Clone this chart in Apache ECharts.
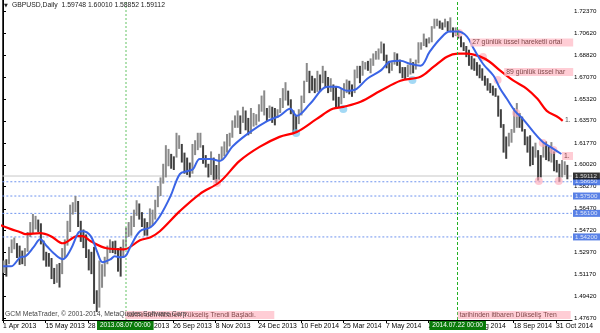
<!DOCTYPE html>
<html><head><meta charset="utf-8">
<script src="https://cdn.jsdelivr.net/npm/echarts@6/dist/echarts.min.js"></script>
<style>html,body{margin:0;padding:0;background:#fff}#c{width:600px;height:333px}</style>
</head><body><div id="c"></div>
<script>
// x axis: trading-day index from 1 Apr 2013
const dateTickDays = [0,32,64,96,128,160,192,224,256,288,320,352,384,416];
const dateLabels = ['1 Apr 2013','15 May 2013','28 Jun 2013','13 Aug 2013','26 Sep 2013','8 Nov 2013','24 Dec 2013','10 Feb 2014','25 Mar 2014','7 May 2014','20 Jun 2014','1 Aug 2014','18 Sep 2014','31 Oct 2014'];
const yTicks = [1.4767,1.4942,1.5117,1.5297,1.5472,1.5647,1.5827,1.6002,1.6177,1.6357,1.6532,1.6707,1.6882,1.7062,1.7237];

// two-day bars (day index 0,2,4,...)
const barHigh = [1.5230,1.5240,1.5340,1.5400,1.5415,1.5370,1.5350,1.5310,1.5330,1.5460,1.5540,1.5605,1.5590,1.5560,1.5530,1.5390,1.5300,1.5290,1.5250,1.5170,1.5200,1.5210,1.5330,1.5400,1.5550,1.5680,1.5700,1.5750,1.5710,1.5550,1.5480,1.5440,1.5320,1.5300,1.5340,1.4990,1.5230,1.5200,1.5260,1.5350,1.5400,1.5385,1.5390,1.5330,1.5340,1.5400,1.5500,1.5540,1.5590,1.5640,1.5716,1.5690,1.5620,1.5570,1.5540,1.5650,1.5640,1.5720,1.5830,1.5900,1.6010,1.6160,1.6130,1.6090,1.6070,1.6260,1.6240,1.6170,1.6100,1.6060,1.6020,1.6170,1.6200,1.6260,1.6260,1.6160,1.6080,1.6010,1.6110,1.6060,1.6000,1.6090,1.6150,1.6190,1.6250,1.6260,1.6360,1.6400,1.6440,1.6400,1.6470,1.6440,1.6380,1.6460,1.6420,1.6410,1.6490,1.6560,1.6602,1.6460,1.6480,1.6470,1.6460,1.6450,1.6540,1.6620,1.6668,1.6600,1.6530,1.6440,1.6400,1.6450,1.6560,1.6680,1.6823,1.6760,1.6720,1.6700,1.6760,1.6730,1.6800,1.6760,1.6710,1.6700,1.6650,1.6630,1.6550,1.6620,1.6660,1.6690,1.6680,1.6650,1.6770,1.6800,1.6800,1.6840,1.6830,1.6840,1.6860,1.6900,1.6920,1.6940,1.6996,1.6980,1.6890,1.6840,1.6830,1.6910,1.6900,1.6850,1.6790,1.6790,1.6810,1.6860,1.6830,1.6850,1.6990,1.6990,1.7060,1.7020,1.7030,1.7120,1.7180,1.7180,1.7165,1.7150,1.7180,1.7160,1.7191,1.7110,1.7110,1.7090,1.7040,1.6990,1.6960,1.6930,1.6880,1.6860,1.6830,1.6810,1.6780,1.6720,1.6700,1.6660,1.6640,1.6620,1.6560,1.6450,1.6330,1.6230,1.6260,1.6290,1.6460,1.6500,1.6420,1.6390,1.6290,1.6230,1.6240,1.6150,1.6180,1.6120,1.6080,1.6180,1.6190,1.6150,1.6185,1.6110,1.6040,1.6010,1.6040,1.6030,1.6001];
const barLow = [1.5130,1.5100,1.5200,1.5290,1.5320,1.5250,1.5195,1.5200,1.5185,1.5300,1.5420,1.5450,1.5480,1.5460,1.5360,1.5230,1.5180,1.5180,1.5080,1.5040,1.5050,1.5012,1.5120,1.5250,1.5350,1.5460,1.5600,1.5620,1.5500,1.5380,1.5330,1.5250,1.5150,1.5120,1.4880,1.4814,1.4850,1.5010,1.5100,1.5200,1.5290,1.5290,1.5280,1.5140,1.5100,1.5250,1.5340,1.5420,1.5430,1.5500,1.5590,1.5560,1.5500,1.5430,1.5430,1.5500,1.5510,1.5560,1.5660,1.5750,1.5850,1.5900,1.5990,1.5970,1.5960,1.6060,1.6130,1.6020,1.5930,1.5920,1.5900,1.5930,1.6080,1.6120,1.6140,1.6010,1.5980,1.5900,1.5920,1.5880,1.5855,1.5880,1.6040,1.6070,1.6100,1.6150,1.6220,1.6300,1.6300,1.6250,1.6340,1.6280,1.6240,1.6250,1.6310,1.6320,1.6350,1.6430,1.6400,1.6350,1.6380,1.6340,1.6320,1.6380,1.6420,1.6460,1.6520,1.6480,1.6410,1.6252,1.6260,1.6330,1.6400,1.6500,1.6670,1.6580,1.6600,1.6580,1.6590,1.6590,1.6660,1.6620,1.6580,1.6590,1.6520,1.6460,1.6460,1.6490,1.6540,1.6580,1.6570,1.6550,1.6580,1.6700,1.6660,1.6720,1.6770,1.6760,1.6740,1.6800,1.6850,1.6850,1.6900,1.6840,1.6780,1.6740,1.6760,1.6810,1.6800,1.6740,1.6700,1.6693,1.6710,1.6730,1.6740,1.6770,1.6820,1.6930,1.6960,1.6950,1.6980,1.6990,1.7100,1.7120,1.7100,1.7090,1.7110,1.7080,1.7070,1.7030,1.7040,1.7020,1.6950,1.6920,1.6870,1.6800,1.6770,1.6760,1.6720,1.6700,1.6680,1.6640,1.6600,1.6580,1.6560,1.6550,1.6390,1.6300,1.6100,1.6050,1.6150,1.6180,1.6260,1.6300,1.6300,1.6270,1.6160,1.6100,1.5990,1.6000,1.6060,1.5875,1.5900,1.6060,1.6040,1.6030,1.6020,1.5950,1.5940,1.5865,1.5900,1.5920,1.5885];

// EMA lines: [day index, price]
const ema27 = [[0,1.5183],[6,1.5183],[13,1.5256],[17,1.5264],[23,1.5337],[28,1.5401],[33,1.5345],[39,1.5280],[45,1.5240],[51,1.5320],[57,1.5458],[60,1.5466],[66,1.5426],[71,1.5296],[75,1.5215],[81,1.5240],[84,1.5264],[88,1.5256],[92,1.5264],[96,1.5345],[103,1.5466],[111,1.5498],[118,1.5587],[126,1.5749],[133,1.5927],[139,1.5952],[143,1.5968],[148,1.6049],[156,1.6049],[163,1.6033],[173,1.6154],[186,1.6267],[199,1.6356],[208,1.6397],[216,1.6453],[221,1.6397],[231,1.6494],[244,1.6631],[251,1.6631],[259,1.6599],[266,1.6615],[274,1.6696],[284,1.6761],[291,1.6833],[299,1.6841],[306,1.6817],[314,1.6801],[321,1.6914],[329,1.7020],[336,1.7076],[342,1.7076],[349,1.7036],[354,1.6939],[361,1.6817],[369,1.6720],[374,1.6615],[379,1.6534],[385,1.6437],[391,1.6372],[399,1.6267],[406,1.6186],[414,1.6130],[420,1.6089]];
const ema89 = [[-2,1.5515],[6,1.5483],[13,1.5458],[17,1.5442],[28,1.5450],[36,1.5426],[45,1.5369],[56,1.5426],[60,1.5426],[66,1.5385],[78,1.5329],[91,1.5320],[103,1.5393],[111,1.5418],[118,1.5466],[133,1.5628],[148,1.5766],[163,1.5863],[178,1.6033],[193,1.6146],[208,1.6227],[221,1.6267],[236,1.6372],[248,1.6453],[256,1.6469],[269,1.6510],[284,1.6599],[299,1.6680],[314,1.6712],[324,1.6793],[334,1.6874],[342,1.6898],[349,1.6898],[359,1.6874],[366,1.6833],[374,1.6761],[384,1.6680],[394,1.6615],[402,1.6534],[409,1.6437],[417,1.6389],[421,1.6356]];

const levelValues = [1.5865,1.5750,1.5610,1.5420];
const bidPrice = 1.59112;
const eventDays = [92,342];
const eventLabels = ['2013.08.07 00:00','2014.07.22 00:00'];
const pinkMarks = [[343,1.7065],[361,1.6871],[372,1.6686],[386,1.6420],[406,1.6178],[414,1.6121],[403,1.5871],[418,1.5871],[161,1.5855]];
const blueMarks = [[220.5,1.6259],[256,1.6452],[308,1.6686]];
const notes = [
  {x:351.4, y:1.6988, text:'27 günlük üssel hareketli ortal', w:100, bg:true},
  {x:377, y:1.6750, text:'89 günlük üssel har', w:66, bg:true},
  {x:421.3, y:1.6363, text:'1.6', w:8, bg:false},
  {x:420.5, y:1.6073, text:'1.', w:8, bg:true},
  {x:92, y:1.4791, text:'tarihinden itibaren Yükseliş Trendi Başladı.', w:146, bg:true},
  {x:342, y:1.4791, text:'tarihinden itibaren Dükseliş Tren', w:110, bg:true}
];

const X_MIN = -0.5, X_MAX = 428;
const barData = barHigh.map((h, k) => {
  const mid = (h + barLow[k]) / 2;
  const prev = k > 0 ? (barHigh[k-1] + barLow[k-1]) / 2 : mid;
  return [k * 2 + 0.5, h, barLow[k], mid >= prev ? 1 : 0];
});

const FONT = 'Liberation Sans';
const boxLabel = (v, bg) => ({
  value: [X_MAX, v],
  label: {show: true, position: 'right', distance: 1, formatter: v.toFixed(5), backgroundColor: bg, color: '#fff',
    fontSize: 6.2, padding: [1, 3, 0, 2], fontFamily: FONT}
});
const hLine = (v, style, z) => ({
  type: 'line', z: z, silent: true, showSymbol: false, symbol: 'none', clip: true,
  data: [[X_MIN, v], [X_MAX, v]], lineStyle: style
});

const chart = echarts.init(document.getElementById('c'), null, {renderer: 'canvas'});
chart.setOption({
  animation: false,
  backgroundColor: '#ffffff',
  grid: {left: 2, right: 28, top: 0, bottom: 13},
  xAxis: {
    type: 'value', min: X_MIN, max: X_MAX,
    axisLine: {show: true, lineStyle: {color: '#000', width: 1}},
    axisTick: {show: true, length: 3, lineStyle: {color: '#000'}, customValues: dateTickDays},
    axisLabel: {customValues: dateTickDays, formatter: v => dateLabels[dateTickDays.indexOf(v)] || '', align: 'left', margin: 3, fontSize: 6.8, color: '#000', fontFamily: FONT},
    splitLine: {show: false}
  },
  yAxis: [{
    type: 'value', position: 'right', min: 1.4750, max: 1.7331,
    axisLine: {show: true, lineStyle: {color: '#000', width: 1}},
    axisTick: {show: true, length: 3, inside: false, lineStyle: {color: '#000'}, customValues: yTicks},
    axisLabel: {customValues: yTicks, formatter: v => v.toFixed(5), fontSize: 6.2, color: '#000', margin: 2, fontFamily: FONT},
    splitLine: {show: false}
  }, {
    type: 'value', position: 'left', min: 1.4750, max: 1.7331,
    axisLine: {show: true, lineStyle: {color: '#444', width: 1}},
    axisTick: {show: false}, axisLabel: {show: false}, splitLine: {show: false}
  }],
  graphic: [
    {type: 'text', left: 4, top: 3, z: 100, style: {text: '▼', fontSize: 5, fill: '#222', fontFamily: 'DejaVu Sans'}},
    {type: 'text', left: 12, top: 2, z: 100, style: {text: 'GBPUSD,Daily  1.59748 1.60010 1.58852 1.59112', fontSize: 6.8, fill: '#222', fontFamily: FONT}},
    {type: 'text', left: 5, top: 311, z: 100, style: {text: 'GCM MetaTrader, © 2001-2014, MetaQuotes Software Corp.', fontSize: 6.8, fill: '#444', fontFamily: FONT}}
  ],
  series: [
    hLine(bidPrice, {color: '#c8c8c8', type: 'solid', width: 1}, 1),
  ].concat(levelValues.map(v => hLine(v, {color: '#6f94ee', type: [2, 2], width: 1}, 1))).concat([
    {
      type: 'custom', name: 'bars', z: 2, clip: true,
      renderItem: (params, api) => {
        const a = api.coord([api.value(0), api.value(1)]);
        const b = api.coord([api.value(0), api.value(2)]);
        return {type: 'line', shape: {x1: a[0], y1: a[1], x2: b[0], y2: b[1]},
          style: {stroke: api.value(3) ? '#8a8a8a' : '#404040', lineWidth: 2}};
      },
      encode: {x: 0, y: [1, 2]},
      data: barData,
      markLine: {
        silent: true, symbol: ['none', 'none'], animation: false,
        data: eventDays.map((d, k) => ({
          xAxis: d,
          lineStyle: k === 0 ? {color: '#98d898', type: [2, 2], width: 1.5} : {color: '#22b022', type: [3, 2], width: 1},
          label: {show: true, position: 'start', distance: 1, formatter: eventLabels[k], backgroundColor: '#0a7a0a', color: '#fff', fontSize: 6.5, padding: [1, 3, 1, 3], fontFamily: FONT}
        }))
      }
    },
    {
      type: 'scatter', name: 'pinkMarks', z: 3, symbolSize: 8, silent: true,
      itemStyle: {color: 'rgba(255,170,185,0.8)'}, data: pinkMarks
    },
    {
      type: 'scatter', name: 'blueMarks', z: 3, symbolSize: 8, silent: true,
      itemStyle: {color: 'rgba(120,200,240,0.85)'}, data: blueMarks
    },
    {
      type: 'line', name: 'EMA89', z: 4, data: ema89, smooth: 0.35, showSymbol: false, clip: true,
      lineStyle: {color: '#ff0000', width: 2.2}
    },
    {
      type: 'line', name: 'EMA27', z: 5, data: ema27, smooth: 0.35, showSymbol: false, clip: true,
      lineStyle: {color: '#3a64e6', width: 2}
    },
    {
      type: 'scatter', name: 'notes', z: 6, symbolSize: 0, silent: true,
      data: notes.map(n => ({
        value: [n.x, n.y],
        label: {show: true, position: 'right', distance: 0, formatter: n.text, width: n.w, overflow: 'truncate', ellipsis: '',
          backgroundColor: n.bg ? '#ffc0cb' : 'transparent', color: n.bg ? '#5a1f1f' : '#222', fontSize: 6.8, padding: [1, 1, 0, 2], fontFamily: FONT}
      }))
    },
    {
      type: 'scatter', name: 'levelBoxes', z: 7, symbolSize: 0, silent: true, clip: false,
      data: levelValues.map(v => boxLabel(v, '#2f62e0'))
    },
    {
      type: 'scatter', name: 'bidBox', z: 8, symbolSize: 0, silent: true, clip: false,
      data: [boxLabel(bidPrice, '#000000')]
    }
  ])
});
</script>
</body></html>
